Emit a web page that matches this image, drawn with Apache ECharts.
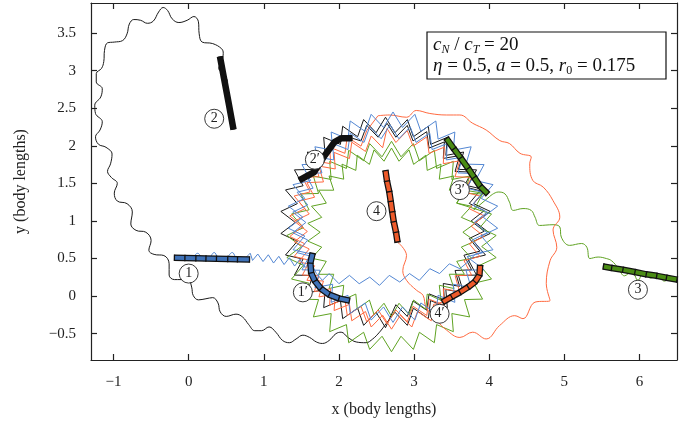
<!DOCTYPE html>
<html><head><meta charset="utf-8">
<script src="https://cdn.jsdelivr.net/npm/echarts@6/dist/echarts.min.js"></script>
<style>html,body{margin:0;padding:0;background:#fff}#c{width:692px;height:425px}</style>
</head><body><div id="c"></div>
<script>
const xTicks = [-1,0,1,2,3,4,5,6];
const yTicks = [-0.5,0,0.5,1,1.5,2,2.5,3,3.5];

const blackPath = [[0.52,2.86],[0.47,2.95],[0.40,3.03],[0.44,3.12],[0.46,3.23],[0.44,3.29],[0.32,3.36],[0.18,3.38],[0.14,3.49],[0.13,3.65],[0.07,3.72],[-0.02,3.67],[-0.13,3.64],[-0.22,3.69],[-0.28,3.80],[-0.34,3.84],[-0.40,3.78],[-0.47,3.66],[-0.55,3.63],[-0.64,3.67],[-0.73,3.68],[-0.79,3.62],[-0.82,3.49],[-0.88,3.40],[-0.99,3.38],[-1.08,3.37],[-1.12,3.27],[-1.13,3.12],[-1.16,3.03],[-1.23,2.96],[-1.23,2.85],[-1.15,2.76],[-1.17,2.65],[-1.25,2.54],[-1.24,2.43],[-1.15,2.32],[-1.18,2.21],[-1.24,2.12],[-1.20,2.02],[-1.10,1.98],[-1.02,1.89],[-1.04,1.76],[-1.08,1.66],[-1.03,1.58],[-0.95,1.50],[-0.99,1.37],[-0.95,1.265],[-0.82,1.23],[-0.75,1.12],[-0.77,0.96],[-0.70,0.875],[-0.57,0.85],[-0.50,0.74],[-0.53,0.61],[-0.46,0.555],[-0.33,0.54],[-0.26,0.43],[-0.26,0.28],[-0.19,0.22],[-0.10,0.22],[0.0,0.21],[0.04,0.12],[0.06,0.01],[0.13,-0.05],[0.23,-0.035],[0.32,-0.02],[0.39,-0.09],[0.42,-0.21],[0.50,-0.27],[0.63,-0.24],[0.72,-0.28],[0.80,-0.38],[0.88,-0.46],[0.97,-0.46],[1.07,-0.41],[1.16,-0.48],[1.25,-0.59],[1.34,-0.62],[1.43,-0.57],[1.52,-0.52],[1.61,-0.55],[1.70,-0.61],[1.78,-0.63],[1.87,-0.59],[1.96,-0.50],[2.03,-0.48],[2.12,-0.55],[2.23,-0.61],[2.36,-0.62],[2.45,-0.57],[2.54,-0.48],[2.61,-0.39]];

const blackRing = [[2.61,-0.39],[2.746,-0.214],[2.911,-0.389],[2.991,-0.161],[3.190,-0.300],[3.220,-0.059],[3.443,-0.153],[3.423,0.088],[3.660,0.043],[3.591,0.274],[3.832,0.280],[3.717,0.492],[3.951,0.547],[3.794,0.730],[4.013,0.833],[3.820,0.980],[4.013,1.127],[3.794,1.230],[3.951,1.413],[3.717,1.468],[3.832,1.680],[3.591,1.686],[3.660,1.917],[3.423,1.872],[3.443,2.113],[3.220,2.019],[3.190,2.260],[2.991,2.121],[2.911,2.349],[2.746,2.174],[2.620,2.380],[2.494,2.174],[2.329,2.349],[2.249,2.121],[2.050,2.260],[2.020,2.019],[1.797,2.113],[1.817,1.872],[1.580,1.917],[1.649,1.686],[1.408,1.680],[1.523,1.468],[1.289,1.413],[1.446,1.230],[1.227,1.127],[1.420,0.980],[1.227,0.833],[1.446,0.730],[1.289,0.547],[1.523,0.492],[1.408,0.280],[1.649,0.274],[1.580,0.043],[1.817,0.088],[1.797,-0.153],[2.020,-0.059],[2.050,-0.300],[2.249,-0.161],[2.329,-0.389],[2.494,-0.214],[2.620,-0.420],[2.758,-0.114],[2.910,-0.271],[2.986,-0.065],[3.169,-0.188],[3.200,0.030],[3.404,-0.052],[3.389,0.168],[3.606,0.130],[3.546,0.341],[3.766,0.350],[3.664,0.544],[3.876,0.598],[3.735,0.767],[3.934,0.863],[3.760,1.000],[3.934,1.137],[3.735,1.233],[3.876,1.402],[3.664,1.456],[3.766,1.650],[3.546,1.659],[3.606,1.870],[3.389,1.832],[3.404,2.052],[3.200,1.970],[3.169,2.188],[2.986,2.065],[2.910,2.271],[2.758,2.114],[2.640,2.300],[2.522,2.114],[2.370,2.271],[2.294,2.065],[2.18,2.10]];

const bluePath = [[-0.06,0.50],[0.05,0.52],[0.12,0.57],[0.20,0.47],[0.27,0.50],[0.34,0.58],[0.42,0.46],[0.50,0.50],[0.58,0.58],[0.66,0.46],[0.74,0.50],[0.82,0.57]];

const blueRing = [[0.82,0.57],[0.85,0.475],[0.92,0.56],[0.99,0.46],[1.06,0.55],[1.13,0.44],[1.20,0.53],[1.27,0.42],[1.34,0.51],[1.41,0.40],[1.48,0.49],[1.55,0.38],[1.62,0.46],[1.70,0.30],[1.78,0.21],[1.87,0.30],[2.00,0.165],[2.14,0.276],[2.27,0.165],[2.41,0.253],[2.54,0.143],[2.67,0.276],[2.81,0.187],[2.94,0.30],[3.07,0.21],[3.21,0.365],[3.34,0.30],[3.47,0.43],[3.61,0.365],[3.74,0.475],[3.817,0.562],[4.051,0.617],[3.894,0.800],[4.113,0.903],[3.920,1.050],[4.113,1.197],[3.894,1.300],[4.051,1.483],[3.817,1.538],[3.932,1.750],[3.691,1.756],[3.760,1.987],[3.523,1.942],[3.543,2.183],[3.320,2.089],[3.290,2.330],[3.091,2.191],[3.011,2.419],[2.846,2.244],[2.720,2.450],[2.594,2.244],[2.429,2.419],[2.349,2.191],[2.150,2.330],[2.120,2.089],[1.897,2.183],[1.917,1.942],[1.680,1.987],[1.749,1.756],[1.508,1.750],[1.623,1.538],[1.389,1.483],[1.546,1.300],[1.327,1.197],[1.520,1.050],[1.327,0.903],[1.546,0.800],[1.389,0.617],[1.623,0.562],[1.508,0.350],[1.749,0.344],[1.680,0.113],[1.917,0.158],[1.897,-0.083],[2.120,0.011],[2.150,-0.230],[2.349,-0.091],[2.429,-0.319],[2.594,-0.144],[2.720,-0.350],[2.846,-0.144],[3.011,-0.319],[3.091,-0.091],[3.290,-0.230],[3.320,0.011],[3.543,-0.083],[3.523,0.158],[3.760,0.113],[3.691,0.344],[3.932,0.350],[3.704,0.524],[3.916,0.578],[3.775,0.747],[3.974,0.843],[3.800,0.980],[3.974,1.117],[3.775,1.213],[3.916,1.382],[3.704,1.436],[3.806,1.630],[3.586,1.639],[3.646,1.850],[3.429,1.812],[3.444,2.032],[3.240,1.950],[3.209,2.168],[3.026,2.045],[2.950,2.251],[2.798,2.094],[2.680,2.280],[2.562,2.094],[2.410,2.251],[2.334,2.045],[2.151,2.168],[2.120,1.950],[1.916,2.032],[1.931,1.812],[1.714,1.850],[1.774,1.639],[1.554,1.630],[1.656,1.436],[1.444,1.382],[1.585,1.213],[1.386,1.117],[1.560,0.980],[1.386,0.843],[1.585,0.747],[1.444,0.578],[1.656,0.524]];

const orangePath = [[2.78,0.72],[2.90,0.54],[2.85,0.34],[2.90,0.21],[3.03,0.08],[3.12,0.01],[3.16,-0.15],[3.30,-0.32],[3.43,-0.45],[3.61,-0.55],[3.78,-0.48],[3.96,-0.57],[4.14,-0.39],[4.34,-0.26],[4.45,-0.30],[4.61,-0.08],[4.81,-0.06],[4.76,0.17],[4.81,0.47],[4.90,0.65],[4.85,0.88],[4.94,1.05],[4.85,1.27],[4.72,1.45],[4.58,1.54],[4.54,1.76],[4.56,1.85],[4.41,1.90],[4.27,2.03],[4.14,2.07],[3.96,2.21],[3.78,2.30],[3.61,2.41],[3.43,2.41],[3.21,2.43],[3.03,2.47],[2.90,2.38],[2.67,2.41],[2.52,2.40]];

const orangeRing = [[2.52,2.40],[2.370,2.201],[2.294,1.995],[2.111,2.118],[2.080,1.900],[1.876,1.982],[1.891,1.762],[1.674,1.800],[1.734,1.589],[1.514,1.580],[1.616,1.386],[1.404,1.332],[1.545,1.163],[1.346,1.067],[1.520,0.930],[1.346,0.793],[1.545,0.697],[1.404,0.528],[1.616,0.474],[1.514,0.280],[1.734,0.271],[1.674,0.060],[1.891,0.098],[1.876,-0.122],[2.080,-0.040],[2.111,-0.258],[2.294,-0.135],[2.370,-0.341],[2.522,-0.184],[2.640,-0.370],[2.758,-0.184],[2.910,-0.341],[2.986,-0.135],[3.169,-0.258],[3.200,-0.040],[3.404,-0.122],[3.389,0.098],[3.606,0.060],[3.546,0.271],[3.766,0.280],[3.664,0.474],[3.876,0.528],[3.735,0.697],[3.934,0.793],[3.760,0.930],[3.934,1.067],[3.735,1.163],[3.876,1.332],[3.664,1.386],[3.766,1.580],[3.546,1.589],[3.606,1.800],[3.389,1.762],[3.404,1.982],[3.200,1.900],[3.169,2.118],[2.986,1.995],[2.910,2.201],[2.758,2.044],[2.640,2.230],[2.582,1.974],[2.430,2.131],[2.354,1.925],[2.171,2.048],[2.140,1.830],[1.936,1.912],[1.951,1.692],[1.734,1.730],[1.794,1.519],[1.574,1.510],[1.676,1.316],[1.464,1.262],[1.605,1.093],[1.406,0.997],[1.580,0.860],[1.406,0.723],[1.605,0.627],[1.464,0.458],[1.676,0.404],[1.574,0.210],[1.794,0.201],[1.734,-0.010],[1.951,0.028],[1.936,-0.192],[2.140,-0.110],[2.171,-0.328],[2.354,-0.205],[2.430,-0.411],[2.582,-0.254],[2.700,-0.440],[2.818,-0.254],[2.970,-0.411],[3.046,-0.205],[3.229,-0.328],[3.260,-0.110],[3.38,-0.08]];

const greenPath = [[6.41,0.24],[6.33,0.20],[6.25,0.28],[6.15,0.24],[6.06,0.33],[5.98,0.21],[5.90,0.33],[5.80,0.27],[5.72,0.37],[5.63,0.47],[5.56,0.50],[5.45,0.52],[5.34,0.50],[5.30,0.65],[5.23,0.70],[5.07,0.675],[4.96,0.785],[4.94,0.92],[4.85,0.95],[4.67,0.94],[4.61,1.05],[4.56,1.14],[4.45,1.165],[4.32,1.14],[4.27,1.25],[4.21,1.36],[4.12,1.385],[4.0,1.32]];

const greenRing = [[4.0,1.32],[3.797,1.148],[3.912,1.360],[3.671,1.366],[3.740,1.597],[3.503,1.552],[3.523,1.793],[3.300,1.699],[3.270,1.940],[3.071,1.801],[2.991,2.029],[2.826,1.854],[2.700,2.060],[2.574,1.854],[2.409,2.029],[2.329,1.801],[2.130,1.940],[2.100,1.699],[1.877,1.793],[1.897,1.552],[1.660,1.597],[1.729,1.366],[1.488,1.360],[1.603,1.148],[1.369,1.093],[1.526,0.910],[1.307,0.807],[1.500,0.660],[1.307,0.513],[1.526,0.410],[1.369,0.227],[1.603,0.172],[1.488,-0.040],[1.729,-0.046],[1.660,-0.277],[1.897,-0.232],[1.877,-0.473],[2.100,-0.379],[2.130,-0.620],[2.329,-0.481],[2.409,-0.709],[2.574,-0.534],[2.700,-0.740],[2.826,-0.534],[2.991,-0.709],[3.071,-0.481],[3.270,-0.620],[3.300,-0.379],[3.523,-0.473],[3.503,-0.232],[3.740,-0.277],[3.671,-0.046],[3.912,-0.040],[3.797,0.172],[4.031,0.227],[3.874,0.410],[4.093,0.513],[3.900,0.660],[4.093,0.807],[3.874,0.910],[4.031,1.093],[3.568,1.237],[3.670,1.410],[3.469,1.409],[3.532,1.599],[3.336,1.556],[3.359,1.756],[3.175,1.673],[3.156,1.874],[2.994,1.753],[2.933,1.945],[2.800,1.795],[2.700,1.970],[2.600,1.795],[2.467,1.945],[2.406,1.753],[2.244,1.874],[2.225,1.673],[2.041,1.756],[2.064,1.556],[1.868,1.599],[1.931,1.409],[1.730,1.410],[1.832,1.237],[1.635,1.196],[1.771,1.048],[1.586,0.968],[1.750,0.850],[1.586,0.732],[1.771,0.652],[1.635,0.504],[1.832,0.463],[1.730,0.290],[1.931,0.291],[1.868,0.101],[2.064,0.144],[2.041,-0.056],[2.225,0.027],[2.244,-0.174],[2.406,-0.053],[2.467,-0.245],[2.600,-0.095],[2.700,-0.270],[2.800,-0.095],[2.933,-0.245],[2.994,-0.053],[3.156,-0.174],[3.175,0.027],[3.359,-0.056],[3.336,0.144],[3.532,0.101],[3.469,0.291],[3.670,0.290],[3.568,0.463],[3.765,0.504],[3.629,0.652],[3.814,0.732],[3.650,0.850],[3.814,0.968],[3.629,1.048],[3.765,1.196],[3.568,1.237],[3.670,1.410],[3.98,1.36]];

const swimmer1 = [[-0.19,0.51],[-0.05,0.507],[0.096,0.503],[0.23,0.50],[0.37,0.497],[0.52,0.494],[0.65,0.49],[0.81,0.487]];
const swimmer2 = [[0.416,3.19],[0.47,2.90],[0.53,2.58],[0.597,2.216]];
const swimmer3 = [[5.52,0.395],[5.63,0.375],[5.78,0.35],[5.94,0.32],[6.09,0.29],[6.23,0.27],[6.36,0.245],[6.50,0.22]];
const swimmer4 = [[2.62,1.67],[2.64,1.53],[2.67,1.39],[2.69,1.26],[2.71,1.12],[2.73,0.99],[2.76,0.85],[2.78,0.72]];
const swimmer1p = [[1.65,0.57],[1.62,0.44],[1.63,0.31],[1.68,0.20],[1.76,0.10],[1.87,0.02],[2.00,-0.03],[2.14,-0.06]];
const swimmer2p = [[1.47,1.54],[1.67,1.65],[1.81,1.87],[1.94,2.05],[2.03,2.10],[2.18,2.10]];
const swimmer3p = [[3.43,2.10],[3.53,1.96],[3.62,1.84],[3.72,1.70],[3.80,1.58],[3.88,1.46],[3.98,1.36]];
const swimmer4p = [[3.38,-0.08],[3.50,-0.01],[3.61,0.05],[3.72,0.12],[3.81,0.19],[3.87,0.28],[3.88,0.41]];

const labelNames = ['1','2','3','4','1\u2032','2\u2032','3\u2032','4\u2032'];
const labelX = [0.0, 0.34, 5.98, 2.50, 1.52, 1.68, 3.61, 3.34];
const labelY = [0.30, 2.36, 0.085, 1.13, 0.05, 1.815, 1.41, -0.235];

const FONT = '"Liberation Serif","DejaVu Serif",serif';
const fmt = v => (v < 0 ? '\u2212' : '') + Math.abs(v);

function trace(data, color, smooth, z) {
  return {type:'line', data, smooth: smooth ? 0.4 : false, symbol:'none', showSymbol:false,
    lineStyle:{color, width:1}, z, silent:true, animation:false};
}
function body(data, fill, z, ticks) {
  const rot = (v, p) => {
    if (!p || p.dataIndex == null) return 0;
    const i = p.dataIndex;
    const a = data[Math.max(0, i - 1)], b = data[Math.min(data.length - 1, i + 1)];
    return Math.atan2(b[1] - a[1], b[0] - a[0]) * 180 / Math.PI;
  };
  const out = [{type:'line', data, symbol:'none', lineStyle:{color:'#111', width:6.5, cap:'butt', join:'round'}, z, silent:true, animation:false}];
  out.push({type:'line', data, symbol: ticks ? 'rect' : 'none', symbolSize:[1.3,6.5], symbolRotate: rot,
    showSymbol: !!ticks, showAllSymbol:true, itemStyle:{color:'#111'},
    lineStyle:{color:fill, width:4, cap:'butt', join:'round'}, z:z+1, silent:true, animation:false});
  return out;
}

const axisLineStyle = {color:'#222', width:1.2};
const labelData = labelNames.map((n, i) => [labelX[i], labelY[i], n]);

const option = {
  animation:false,
  backgroundColor:'#fff',
  grid:{left:91, right:15, top:3, bottom:65},
  xAxis:[
    {type:'value', min:-1.3, max:6.5, position:'bottom',
     axisLine:{show:true, onZero:false, lineStyle:axisLineStyle},
     axisTick:{show:true, inside:true, length:6, customValues:xTicks, lineStyle:axisLineStyle},
     axisLabel:{customValues:xTicks, formatter:fmt, fontFamily:FONT, fontSize:15, color:'#222', margin:15},
     splitLine:{show:false},
     name:'x (body lengths)', nameLocation:'middle', nameGap:42,
     nameTextStyle:{fontFamily:FONT, fontSize:16, color:'#222'}},
    {type:'value', min:-1.3, max:6.5, position:'top',
     axisLine:{show:true, onZero:false, lineStyle:axisLineStyle},
     axisTick:{show:true, inside:true, length:6, customValues:xTicks, lineStyle:axisLineStyle},
     axisLabel:{show:false}, splitLine:{show:false}}
  ],
  yAxis:[
    {type:'value', min:-0.85, max:3.9, position:'left',
     axisLine:{show:true, onZero:false, lineStyle:axisLineStyle},
     axisTick:{show:true, inside:true, length:6, customValues:yTicks, lineStyle:axisLineStyle},
     axisLabel:{customValues:yTicks, formatter:fmt, fontFamily:FONT, fontSize:15, color:'#222', margin:15},
     splitLine:{show:false},
     name:'y (body lengths)', nameLocation:'middle', nameGap:62, nameRotate:90,
     nameTextStyle:{fontFamily:FONT, fontSize:16, color:'#222'}},
    {type:'value', min:-0.85, max:3.9, position:'right',
     axisLine:{show:true, onZero:false, lineStyle:axisLineStyle},
     axisTick:{show:true, inside:true, length:6, customValues:yTicks, lineStyle:axisLineStyle},
     axisLabel:{show:false}, splitLine:{show:false}}
  ],
  series:[
    trace(blackPath, '#1a1a1a', true, 2),
    trace(blackRing, '#1a1a1a', false, 2),
    trace(greenPath, '#5fa322', true, 3),
    trace(greenRing, '#5fa322', false, 3),
    trace(orangePath, '#ff6a40', true, 4),
    trace(orangeRing, '#ff6a40', false, 4),
    trace(bluePath, '#5387d3', true, 5),
    trace(blueRing, '#5387d3', false, 5),
    ...body(swimmer1, '#3f72b8', 10, true),
    ...body(swimmer2, '#111', 10, false),
    ...body(swimmer3, '#4a8c14', 10, true),
    ...body(swimmer4, '#ee5a2a', 10, true),
    ...body(swimmer1p, '#3f72b8', 10, true),
    ...body(swimmer2p, '#111', 10, false),
    ...body(swimmer3p, '#4a8c14', 10, true),
    ...body(swimmer4p, '#ee5a2a', 10, true),
    {type:'scatter', data:labelData, symbol:'circle', symbolSize:19, z:20, silent:true,
     itemStyle:{color:'#fff', borderColor:'#222', borderWidth:0.9, opacity:1},
     label:{show:true, position:'inside', formatter:p => p.value[2], fontFamily:FONT, fontSize:14, color:'#222'}}
  ],
  graphic:[
    {type:'rect', x:427, y:32, shape:{width:239, height:47}, style:{fill:'#fff', stroke:'#111', lineWidth:1.2}, z:100},
    {type:'text', x:433, y:45, z:101, style:{
      text:'{i|c}{s|N}{n| / }{i|c}{s|T}{n| = 20}', verticalAlign:'middle', align:'left',
      rich:{i:{fontFamily:FONT, fontStyle:'italic', fontSize:19, fill:'#111'},
            n:{fontFamily:FONT, fontSize:19, fill:'#111'},
            s:{fontFamily:FONT, fontStyle:'italic', fontSize:12, fill:'#111', verticalAlign:'bottom', padding:[10,0,0,0]}}}},
    {type:'text', x:433, y:66, z:101, style:{
      text:'{i|\u03b7}{n| = 0.5, }{i|a}{n| = 0.5, }{i|r}{s|0}{n| = 0.175}', verticalAlign:'middle', align:'left',
      rich:{i:{fontFamily:FONT, fontStyle:'italic', fontSize:19, fill:'#111'},
            n:{fontFamily:FONT, fontSize:19, fill:'#111'},
            s:{fontFamily:FONT, fontSize:12, fill:'#111', verticalAlign:'bottom', padding:[10,0,0,0]}}}}
  ]
};
const chart = echarts.init(document.getElementById('c'), null, {renderer:'canvas'});
chart.setOption(option);
</script>
</body></html>
